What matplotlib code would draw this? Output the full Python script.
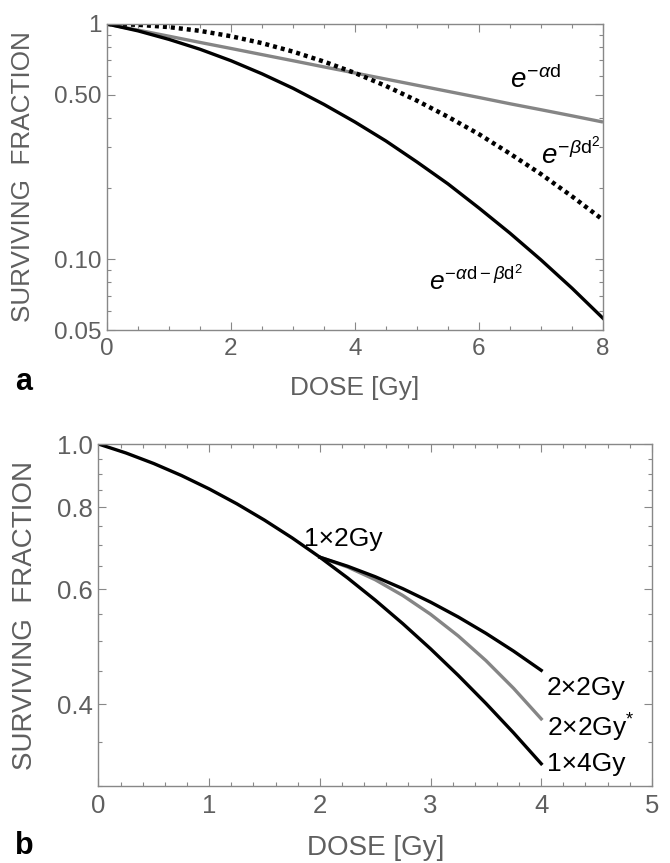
import matplotlib
matplotlib.use("Agg")
import matplotlib.pyplot as plt
from matplotlib.ticker import FixedLocator, MultipleLocator, NullFormatter

plt.rcParams['font.family'] = ['Liberation Sans', 'DejaVu Sans']
plt.rcParams['mathtext.fontset'] = 'custom'
plt.rcParams['mathtext.rm'] = 'Liberation Sans'
plt.rcParams['mathtext.it'] = 'Liberation Sans:italic'

# panel a: surviving fraction read at 0.5 Gy steps
dose_a = [0, 0.5, 1, 1.5, 2, 2.5, 3, 3.5, 4, 4.5, 5, 5.5, 6, 6.5, 7, 7.5, 8]
sf_alpha = [1.0, 0.942, 0.887, 0.835, 0.787, 0.741, 0.698, 0.657, 0.619,
            0.583, 0.549, 0.517, 0.487, 0.458, 0.432, 0.407, 0.383]
sf_beta = [1.0, 0.9925, 0.970, 0.935, 0.887, 0.829, 0.763, 0.692, 0.619,
           0.545, 0.472, 0.403, 0.340, 0.281, 0.230, 0.185, 0.147]
sf_lq = [1.0, 0.935, 0.860, 0.781, 0.698, 0.614, 0.533, 0.455, 0.383,
         0.318, 0.259, 0.209, 0.165, 0.129, 0.0993, 0.0753, 0.0561]

# panel b: fractionation curves read at 0.25 Gy steps
dose_b = [0, 0.25, 0.5, 0.75, 1, 1.25, 1.5, 1.75, 2, 2.25, 2.5, 2.75, 3,
          3.25, 3.5, 3.75, 4]
sf_1x4 = [1.0, 0.9687, 0.9335, 0.8950, 0.8538, 0.8102, 0.7649, 0.7185, 0.6714,
          0.6242, 0.5773, 0.5312, 0.4863, 0.4429, 0.4013, 0.3618, 0.3245]
dose_b2 = [2, 2.25, 2.5, 2.75, 3, 3.25, 3.5, 3.75, 4]
sf_2x2 = [0.6714, 0.6504, 0.6268, 0.6009, 0.5732, 0.5440, 0.5136, 0.4824, 0.4508]
sf_2x2s = [0.6714, 0.6486, 0.6202, 0.5866, 0.5492, 0.5089, 0.4666, 0.4232, 0.380]

axis_grey = '#888888'
text_grey = '#5f5f5f'
line_grey = '#858585'

fig = plt.figure(figsize=(6.7, 8.63), dpi=100)
ax1 = fig.add_axes([0.1597, 0.6176, 0.7403, 0.3546])
ax2 = fig.add_axes([0.1470, 0.0892, 0.8260, 0.3963])


def style(ax, tick_size, label_size, xpad):
    for s in ax.spines.values():
        s.set_color(axis_grey)
        s.set_linewidth(1.0)
    ax.tick_params(which='both', direction='in', top=True, right=True,
                   color=axis_grey, labelcolor=text_grey, labelsize=tick_size, width=0.8)
    ax.tick_params(which='major', length=6)
    ax.tick_params(which='minor', length=3)
    ax.tick_params(axis='x', which='major', pad=6)
    ax.tick_params(axis='y', which='major', pad=4)
    ax.set_xlabel('DOSE [Gy]', fontsize=label_size, color=text_grey, labelpad=xpad)
    ax.set_ylabel('SURVIVING  FRACTION', fontsize=label_size, color=text_grey)


# ---- panel a
ax1.plot(dose_a, sf_alpha, color=line_grey, lw=2.4, solid_capstyle='butt')
ax1.plot(dose_a, sf_beta, color='black', lw=3.2, linestyle=(0, (0.9, 0.9)))
ax1.plot(dose_a, sf_lq, color='black', lw=2.4)
ax1.set_yscale('log')
ax1.set_xlim(0, 8)
ax1.set_ylim(0.05, 1)
ax1.xaxis.set_major_locator(MultipleLocator(2))
ax1.xaxis.set_minor_locator(MultipleLocator(0.5))
ax1.yaxis.set_major_locator(FixedLocator([0.05, 0.1, 0.5, 1]))
ax1.set_yticklabels(['0.05', '0.10', '0.50', '1'])
ax1.yaxis.set_minor_locator(FixedLocator([0.06, 0.07, 0.08, 0.09, 0.2, 0.3,
                                          0.4, 0.6, 0.7, 0.8, 0.9]))
ax1.yaxis.set_minor_formatter(NullFormatter())
style(ax1, 17.5, 18.8, 11)
ax1.yaxis.set_label_coords(-0.145, 0.5)

ax1.text(6.5, 0.58, r'$e^{-\alpha\mathrm{d}}$', fontsize=20, va='center')
ax1.text(7.0, 0.28, r'$e^{-\beta\mathrm{d}^2}$', fontsize=20, va='center')
ax1.text(5.2, 0.082, r'$e^{-\alpha\mathrm{d}-\beta\mathrm{d}^2}$', fontsize=19, va='center')
fig.text(0.022, 0.548, 'a', fontsize=22, fontweight='bold')

# ---- panel b
ax2.plot(dose_b2, sf_2x2s, color=line_grey, lw=2.4)
ax2.plot(dose_b2, sf_2x2, color='black', lw=2.4)
ax2.plot(dose_b, sf_1x4, color='black', lw=2.4)
ax2.set_yscale('log')
ax2.set_xlim(0, 5)
ax2.set_ylim(0.3, 1.0)
ax2.xaxis.set_major_locator(MultipleLocator(1))
ax2.xaxis.set_minor_locator(MultipleLocator(0.2))
ax2.yaxis.set_major_locator(FixedLocator([0.4, 0.6, 0.8, 1.0]))
ax2.set_yticklabels(['0.4', '0.6', '0.8', '1.0'])
ax2.yaxis.set_minor_locator(FixedLocator([0.3, 0.35, 0.45, 0.5, 0.55, 0.65,
                                          0.7, 0.75, 0.85, 0.9, 0.95]))
ax2.yaxis.set_minor_formatter(NullFormatter())
style(ax2, 18.5, 20, 12)
ax2.yaxis.set_label_coords(-0.11, 0.5)

ax2.text(1.86, 0.715, '1×2Gy', fontsize=19, va='center')
ax2.text(4.05, 0.424, '2×2Gy', fontsize=19, va='center')
ax2.text(4.05, 0.368, r'2×2Gy$^{*}$', fontsize=19, va='center')
ax2.text(4.05, 0.324, '1×4Gy', fontsize=19, va='center')
fig.text(0.022, 0.011, 'b', fontsize=22, fontweight='bold')

fig.savefig('out.png', dpi=100)
